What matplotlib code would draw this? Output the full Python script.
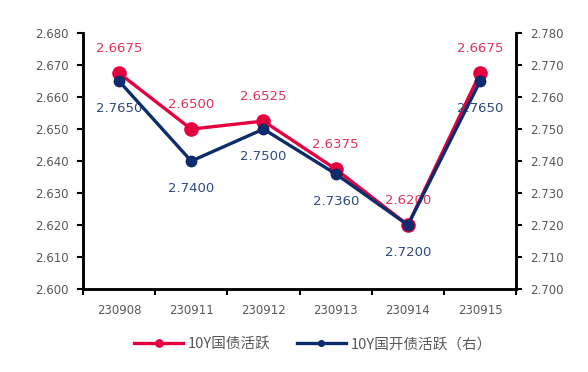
import matplotlib
matplotlib.use("Agg")
import matplotlib.pyplot as plt
from matplotlib.ticker import FixedLocator, FormatStrFormatter

plt.rcParams['font.family'] = ['DejaVu Sans']

categories = ['230908', '230911', '230912', '230913', '230914', '230915']
gov_10y = [2.6675, 2.6500, 2.6525, 2.6375, 2.6200, 2.6675]
cdb_10y = [2.7650, 2.7400, 2.7500, 2.7360, 2.7200, 2.7650]
left_ticks = [2.600, 2.610, 2.620, 2.630, 2.640, 2.650, 2.660, 2.670, 2.680]
right_ticks = [2.700, 2.710, 2.720, 2.730, 2.740, 2.750, 2.760, 2.770, 2.780]

red = '#E4003F'
red_txt = '#E0325C'
navy = '#0D2C6C'
navy_txt = '#2E4A7E'
gray = '#595959'

fig = plt.figure(figsize=(5.88, 3.72), dpi=100)
ax = fig.add_axes([0.141, 0.223, 0.737, 0.688])
ax2 = ax.twinx()

x = list(range(len(categories)))
l1, = ax.plot(x, gov_10y, color=red, lw=2.4, marker='o', ms=9.5, zorder=3,
              label='10Y国债活跃')
l2, = ax2.plot(x, cdb_10y, color=navy, lw=2.4, marker='o', ms=7.5, zorder=4,
               label='10Y国开债活跃（右）')

ax.set_ylim(2.600, 2.680)
ax2.set_ylim(2.700, 2.780)
ax.set_xlim(-0.5, len(categories) - 0.5)

ax.set_yticks(left_ticks)
ax2.set_yticks(right_ticks)
ax.yaxis.set_major_formatter(FormatStrFormatter('%.3f'))
ax2.yaxis.set_major_formatter(FormatStrFormatter('%.3f'))

ax.xaxis.set_major_locator(FixedLocator([i - 0.5 for i in range(len(categories) + 1)]))
ax.xaxis.set_major_formatter(plt.NullFormatter())
ax.xaxis.set_minor_locator(FixedLocator(x))
ax.set_xticklabels(categories, minor=True)
ax.tick_params(axis='x', which='minor', length=0, pad=11, labelsize=8.5, labelcolor=gray)
ax.tick_params(axis='x', which='major', length=4, width=1.5, direction='out')

for a in (ax, ax2):
    a.tick_params(axis='y', length=4, width=1.5, direction='out', labelsize=8.5,
                  labelcolor=gray, pad=6)
    a.spines['top'].set_visible(False)
    for s in ('left', 'right', 'bottom'):
        a.spines[s].set_linewidth(1.8)
        a.spines[s].set_color('black')

for xi, v in zip(x, gov_10y):
    ax.annotate(f'{v:.4f}', (xi, v), xytext=(0, 18), textcoords='offset points',
                ha='center', va='center', color=red_txt, fontsize=9.5)
for xi, v in zip(x, cdb_10y):
    ax2.annotate(f'{v:.4f}', (xi, v), xytext=(0, -20), textcoords='offset points',
                 ha='center', va='center', color=navy_txt, fontsize=9.5)

leg = fig.legend(handles=[l1, l2], loc='center', bbox_to_anchor=(0.532, 0.075),
                 ncol=2, frameon=False, handlelength=3.4,
                 columnspacing=1.8, handletextpad=0.3, markerscale=0.55,
                 prop={'family': ['Noto Sans CJK SC', 'DejaVu Sans'], 'size': 10.5})
for t in leg.get_texts():
    t.set_color(gray)

fig.savefig('out.png', dpi=100)
